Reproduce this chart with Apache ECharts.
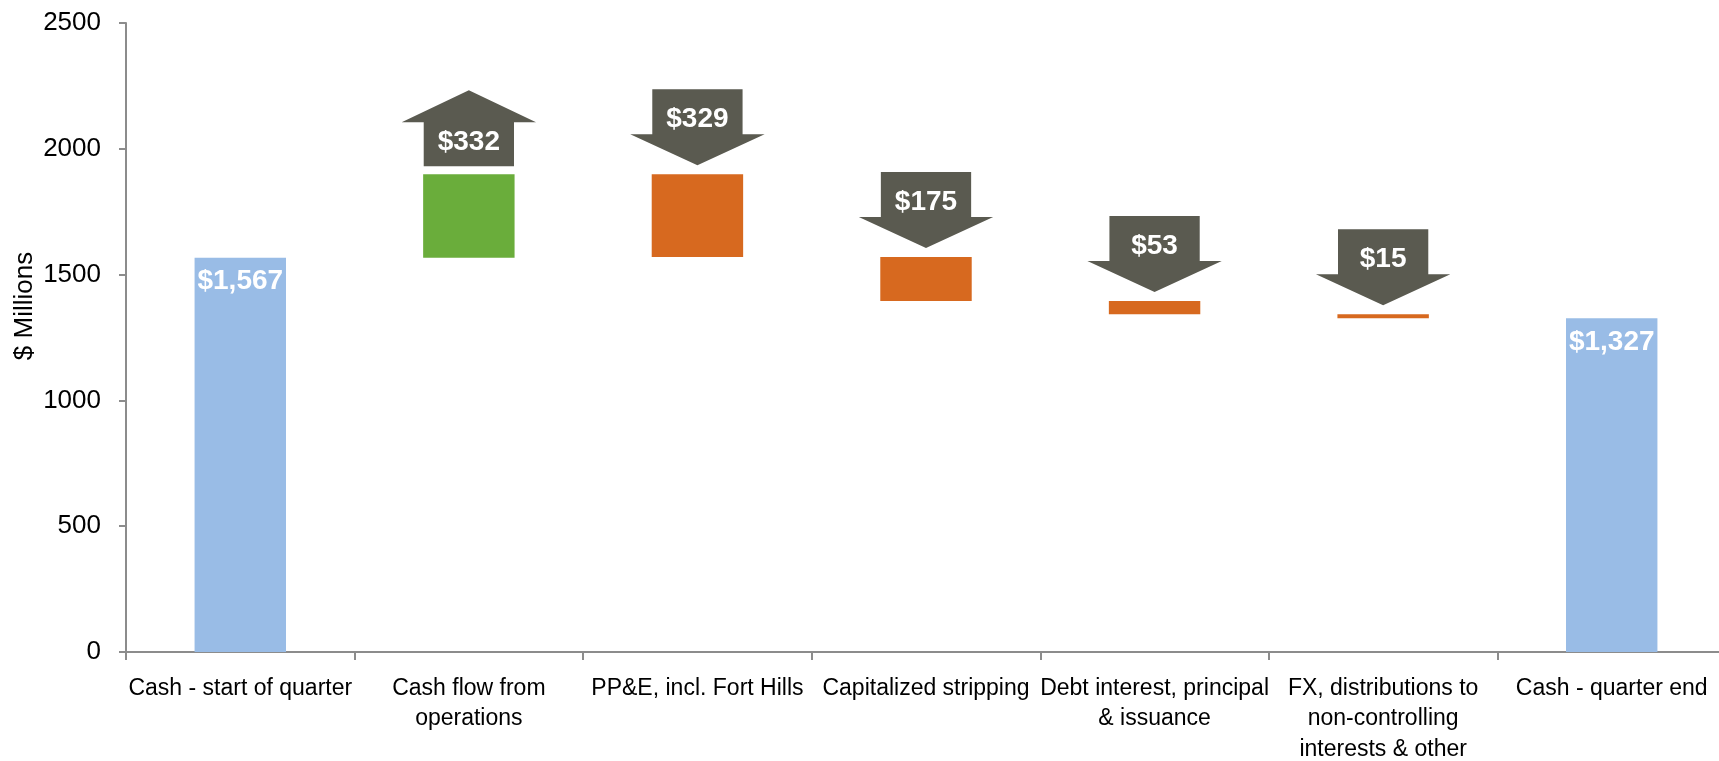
<!DOCTYPE html>
<html>
<head>
<meta charset="utf-8">
<title>Cash waterfall</title>
<script src="https://cdn.jsdelivr.net/npm/echarts@6/dist/echarts.min.js"></script>
<style>
  html, body { margin: 0; padding: 0; background: #fff; }
  #main { width: 1719px; height: 761px; }
</style>
</head>
<body>
<div id="main"></div>
<script>
// chart data
var categories = [
    "Cash - start of quarter",
    "Cash flow from\noperations",
    "PP&E, incl. Fort Hills",
    "Capitalized stripping",
    "Debt interest, principal\n& issuance",
    "FX, distributions to\nnon-controlling\ninterests & other",
    "Cash - quarter end"
];
var startCash = 1567;
var endCash = 1327;
var changes = [332, -329, -175, -53, -15];   // cash flow from operations ... FX & other
var yTicks = [0, 500, 1000, 1500, 2000, 2500];

var blue = "#99bce6";
var green = "#6aad3b";
var orange = "#d7691f";
var arrowGray = "#5a5a50";
var font = "'Liberation Sans', Arial, sans-serif";

function money(v) {
    return "$" + String(Math.abs(v)).replace(/\B(?=(\d{3})+(?!\d))/g, ",");
}

// build the waterfall pieces from the values above
var baseData = [0];
var totalData = [startCash];
var upData = ["-"];
var downData = ["-"];
var arrowData = [];
var running = startCash;
changes.forEach(function (c, i) {
    var next = running + c;
    baseData.push(Math.min(running, next));
    totalData.push("-");
    upData.push(c > 0 ? c : "-");
    downData.push(c < 0 ? -c : "-");
    arrowData.push([i + 1, Math.max(running, next), c]);
    running = next;
});
baseData.push(0);
totalData.push(endCash);
upData.push("-");
downData.push("-");

var chart = echarts.init(document.getElementById("main"));

chart.setOption({
    animation: false,
    grid: { left: 126, top: 23, width: 1600, bottom: 109, containLabel: false, outerBoundsMode: "none" },
    xAxis: {
        type: "category",
        data: categories,
        axisLine: { lineStyle: { color: "#8c8c8c", width: 2 } },
        axisTick: { show: true, length: 8, lineStyle: { color: "#8c8c8c", width: 2 } },
        axisLabel: {
            interval: 0,
            margin: 21,
            color: "#000",
            fontSize: 23,
            lineHeight: 30.5,
            fontFamily: font
        }
    },
    yAxis: {
        type: "value",
        min: yTicks[0],
        max: yTicks[yTicks.length - 1],
        interval: yTicks[1] - yTicks[0],
        splitLine: { show: false },
        axisLine: { show: true, lineStyle: { color: "#8c8c8c", width: 2 } },
        axisTick: { show: true, length: 7, lineStyle: { color: "#8c8c8c", width: 2 } },
        axisLabel: {
            margin: 25,
            color: "#000",
            fontSize: 26,
            fontFamily: font,
            formatter: function (v) { return String(v); }
        }
    },
    graphic: [{
        type: "text",
        x: 25,
        y: 306,
        rotation: Math.PI / 2,
        style: {
            text: "$ Millions",
            fill: "#000",
            fontSize: 26,
            fontFamily: font,
            align: "center",
            verticalAlign: "middle"
        }
    }],
    series: [
        {
            name: "base",
            type: "bar",
            stack: "w",
            barWidth: "40%",
            itemStyle: { color: "transparent" },
            silent: true,
            data: baseData
        },
        {
            name: "cash",
            type: "bar",
            stack: "w",
            barWidth: "40%",
            itemStyle: { color: blue },
            label: {
                show: true,
                position: "insideTop",
                distance: 10,
                color: "#fff",
                fontSize: 28,
                fontWeight: "bold",
                fontFamily: font,
                formatter: function (p) { return money(p.value); }
            },
            data: totalData
        },
        {
            name: "increase",
            type: "bar",
            stack: "w",
            barWidth: "40%",
            itemStyle: { color: green },
            data: upData
        },
        {
            name: "decrease",
            type: "bar",
            stack: "w",
            barWidth: "40%",
            itemStyle: { color: orange },
            data: downData
        },
        {
            name: "arrows",
            type: "custom",
            encode: { x: 0, y: 1 },
            data: arrowData,
            renderItem: function (params, api) {
                var p = api.coord([api.value(0), api.value(1)]);
                var band = api.size([1, 0])[0];
                var cx = p[0];
                var headW = band * 0.588 / 2;
                var shaftW = band * 0.395 / 2;
                var chg = api.value(2);
                var pts, textY;
                if (chg > 0) {
                    var bottom = p[1] - 8;
                    var tip = bottom - 76;
                    var hb = tip + 32;
                    pts = [[cx, tip], [cx + headW, hb], [cx + shaftW, hb], [cx + shaftW, bottom],
                           [cx - shaftW, bottom], [cx - shaftW, hb], [cx - headW, hb]];
                    textY = bottom - 24;
                } else {
                    var tipD = p[1] - 9;
                    var top = tipD - 76;
                    var hbD = tipD - 31;
                    pts = [[cx - shaftW, top], [cx + shaftW, top], [cx + shaftW, hbD], [cx + headW, hbD],
                           [cx, tipD], [cx - headW, hbD], [cx - shaftW, hbD]];
                    textY = top + 30;
                }
                return {
                    type: "group",
                    children: [
                        { type: "polygon", shape: { points: pts }, style: { fill: arrowGray } },
                        {
                            type: "text",
                            x: cx,
                            y: textY,
                            style: {
                                text: money(chg),
                                fill: "#fff",
                                fontSize: 28,
                                fontWeight: "bold",
                                fontFamily: font,
                                align: "center",
                                verticalAlign: "middle"
                            }
                        }
                    ]
                };
            }
        }
    ]
});
</script>
</body>
</html>
